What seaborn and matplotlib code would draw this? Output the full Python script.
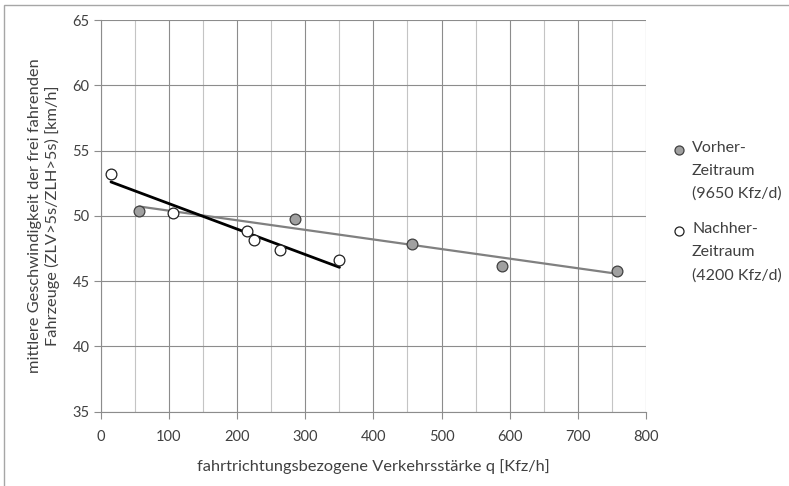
import matplotlib
matplotlib.use("Agg")
import matplotlib.pyplot as plt
from matplotlib.lines import Line2D
from matplotlib.patches import Rectangle
import seaborn as sns
import pandas as pd

# Measured traffic volume q [Kfz/h] and mean free-flow speed [km/h]
vorher_q = [56.7, 285.2, 457.4, 588.7, 757.9]
vorher_v = [50.37, 49.73, 47.84, 46.18, 45.77]
nachher_q = [15.1, 105.7, 215.2, 225.5, 263.7, 350.3]
nachher_v = [53.2, 50.24, 48.86, 48.12, 47.36, 46.64]

series_labels = ["Vorher-\nZeitraum\n(9650 Kfz/d)", "Nachher-\nZeitraum\n(4200 Kfz/d)"]
x_ticks = [0, 100, 200, 300, 400, 500, 600, 700, 800]
y_ticks = [35, 40, 45, 50, 55, 60, 65]

df_vor = pd.DataFrame({"q": vorher_q, "v": vorher_v})
df_nach = pd.DataFrame({"q": nachher_q, "v": nachher_v})

sns.set_theme(style="white")
plt.rcParams["font.family"] = ["Lato", "DejaVu Sans"]

W, H = 789, 486
fig = plt.figure(figsize=(W / 100, H / 100), dpi=100)
ax = fig.add_axes([0.1276, 0.1529, 0.6912, 0.8059])

text_col = "#404040"
major_grid = "#8c8c8c"
minor_grid = "#c4c4c4"
vor_fill, vor_edge = "#a0a0a0", "#404040"
nach_fill, nach_edge = "white", "#202020"

# trend lines (least squares)
sns.regplot(data=df_vor, x="q", y="v", ax=ax, scatter=False, ci=None,
            line_kws=dict(color="#808080", lw=1.6, zorder=3))
sns.regplot(data=df_nach, x="q", y="v", ax=ax, scatter=False, ci=None,
            line_kws=dict(color="black", lw=2.0, zorder=3))

# measurement points
sns.scatterplot(data=df_vor, x="q", y="v", ax=ax, s=60, color=vor_fill,
                edgecolor=vor_edge, linewidth=0.9, zorder=4)
sns.scatterplot(data=df_nach, x="q", y="v", ax=ax, s=60, color=nach_fill,
                edgecolor=nach_edge, linewidth=0.9, zorder=4)

ax.set_xlim(0, 800)
ax.set_ylim(35, 65)
ax.set_xticks(x_ticks)
ax.set_xticks(range(50, 800, 100), minor=True)
ax.set_yticks(y_ticks)

ax.grid(True, which="major", axis="both", color=major_grid, lw=0.8, zorder=0)
ax.grid(True, which="minor", axis="x", color=minor_grid, lw=0.8, zorder=0)
ax.set_axisbelow(True)

for side in ["top", "right"]:
    ax.spines[side].set_visible(False)
for side in ["left", "bottom"]:
    ax.spines[side].set_color(major_grid)
    ax.spines[side].set_linewidth(0.8)

ax.tick_params(axis="both", which="major", direction="out", length=5,
               width=0.8, color=major_grid, labelsize=10.5, labelcolor=text_col,
               left=True, bottom=True)
ax.tick_params(axis="x", which="minor", length=0)
ax.tick_params(axis="x", pad=8)
ax.tick_params(axis="y", pad=3)

ax.set_xlabel("fahrtrichtungsbezogene Verkehrsstärke q [Kfz/h]",
              fontsize=11.8, color=text_col, labelpad=11)
ax.set_ylabel("mittlere Geschwindigkeit der frei fahrenden\nFahrzeuge (ZLV>5s/ZLH>5s) [km/h]",
              fontsize=11.8, color=text_col, labelpad=9, linespacing=1.25)

# legend: marker next to the first line of each three-line entry
legend_entries = [
    (series_labels[0], vor_fill, vor_edge, 150),
    (series_labels[1], nach_fill, nach_edge, 231),
]
for label, fc, ec, y_px in legend_entries:
    fig.add_artist(Line2D([679 / W], [1 - y_px / H], transform=fig.transFigure,
                          ls="none", marker="o", ms=6.5, mfc=fc, mec=ec, mew=0.9))
    fig.text(692 / W, 1 - (y_px - 9) / H, label, transform=fig.transFigure,
             ha="left", va="top", fontsize=11.5, color=text_col, linespacing=1.8)

# outer chart frame
fig.add_artist(Rectangle((4 / W, -0.02), 1.02, 1 - 5 / H + 0.02,
                         transform=fig.transFigure, fill=False,
                         edgecolor="#a6a6a6", lw=1.0))

fig.savefig("out.png", dpi=100)
